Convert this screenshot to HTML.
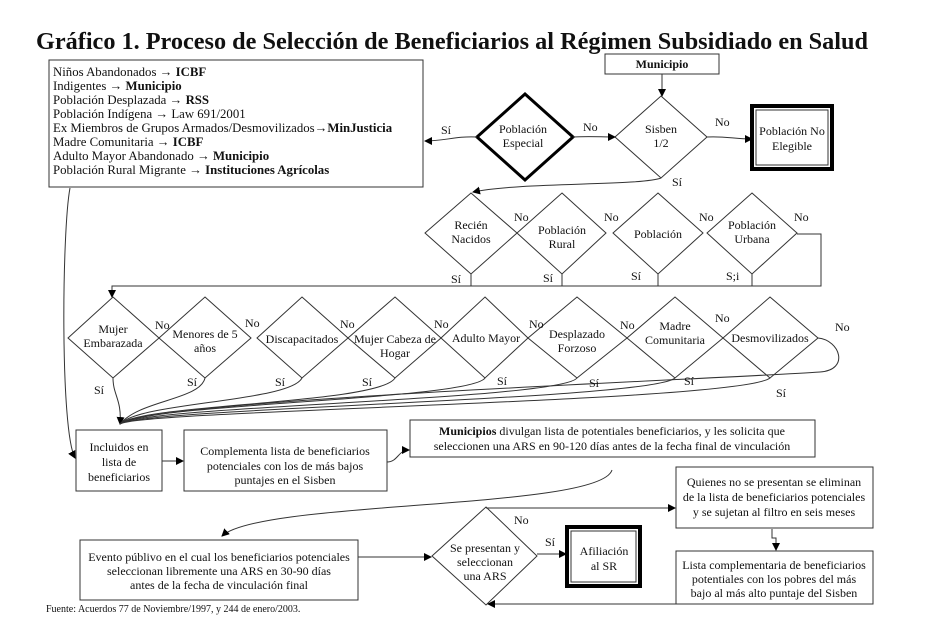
<!DOCTYPE html>
<html><head><meta charset="utf-8"><style>
body{margin:0;background:#fff}
svg{display:block}
text{font-family:"Liberation Serif",serif;font-size:12px;fill:#111}
.c{text-anchor:middle}
.l{font-size:12.8px}
</style></head><body>
<svg width="952" height="635" viewBox="0 0 952 635" xmlns="http://www.w3.org/2000/svg">
<defs><marker id="a" markerWidth="8" markerHeight="8" refX="7" refY="4" orient="auto" markerUnits="userSpaceOnUse"><path d="M0,0 L8,4 L0,8 z" fill="#000"/></marker></defs>
<text x="36" y="49" textLength="832" lengthAdjust="spacingAndGlyphs" style="font-size:24px;font-weight:bold">Gráfico 1. Proceso de Selección de Beneficiarios al Régimen Subsidiado en Salud</text>
<g fill="none" stroke="#333" stroke-width="1">
<rect x="49" y="60" width="374" height="127"/>
<rect x="605" y="54" width="114" height="20"/>
<path d="M662,74 V96" marker-end="url(#a)"/>
<path d="M525,94 L573,137 L525,180 L477,137 Z" stroke="#000" stroke-width="3"/>
<path d="M661,96 L707,137 L661,178 L615,137 Z"/>
<rect x="752" y="106" width="80" height="63" stroke="#000" stroke-width="4"/>
<rect x="756" y="110" width="72" height="55"/>
<path d="M477,137 C455,136 445,141 425,141" marker-end="url(#a)"/>
<path d="M573,137 C590,136 600,137 615,137" marker-end="url(#a)"/>
<path d="M707,137 C725,136 735,139 752,139" marker-end="url(#a)"/>
<path d="M661,178 C640,186 520,182 473,192" marker-end="url(#a)"/>
<path d="M471,193 L517,233 L471,274 L425,233 Z"/>
<path d="M562,193 L606,233 L562,274 L517,233 Z"/>
<path d="M658,193 L703,233 L658,274 L613,233 Z"/>
<path d="M752,193 L797,233 L752,274 L707,233 Z"/>
<path d="M471,274 V286 M562,274 V286 M658,274 V286 M752,274 V286 M797,234 H821 V286 H112 V297"/>
<path d="M112,286 V297" marker-end="url(#a)"/>
<path d="M113,297 L159,338 L113,378 L68,338 Z"/>
<path d="M205,297 L251,338 L205,378 L159,338 Z"/>
<path d="M302,297 L348,338 L302,378 L257,338 Z"/>
<path d="M395,297 L441,338 L395,378 L348,338 Z"/>
<path d="M485,297 L528,338 L485,378 L441,338 Z"/>
<path d="M577,297 L627,338 L577,378 L528,338 Z"/>
<path d="M675,297 L723,338 L675,378 L627,338 Z"/>
<path d="M770,297 L818,338 L770,378 L723,338 Z"/>
<path d="M113,378 C113,395 122,400 120,424" marker-end="url(#a)"/>
<path d="M205,378 C200,400 140,400 120,424"/>
<path d="M302,378 C290,402 140,402 120,424"/>
<path d="M395,378 C380,404 140,404 120,424"/>
<path d="M485,378 C470,400 140,404 120,424"/>
<path d="M577,378 C560,400 140,406 120,424"/>
<path d="M675,378 C650,400 140,408 120,424"/>
<path d="M770,378 C740,402 140,410 120,424"/>
<path d="M818,338 C840,340 850,370 820,372 C700,380 150,400 120,424"/>
<path d="M70,188 C62,230 60,430 75,458" marker-end="url(#a)"/>
<rect x="76" y="430" width="86" height="61"/>
<rect x="184" y="430" width="203" height="61"/>
<rect x="410" y="420" width="405" height="37"/>
<path d="M162,461 H183" marker-end="url(#a)"/>
<path d="M387,462 C398,462 398,450 409,450" marker-end="url(#a)"/>
<path d="M612,470 C600,510 260,500 222,536" marker-end="url(#a)"/>
<rect x="80" y="540" width="278" height="60"/>
<path d="M358,557 H431" marker-end="url(#a)"/>
<path d="M486,507 L537,556 L486,605 L432,556 Z"/>
<path d="M486,508 H675" marker-end="url(#a)"/>
<path d="M537,554 H566" marker-end="url(#a)"/>
<rect x="567" y="527" width="73" height="59" stroke="#000" stroke-width="4"/>
<rect x="571" y="531" width="65" height="51"/>
<rect x="676" y="467" width="197" height="61"/>
<rect x="676" y="551" width="197" height="53"/>
<path d="M772,529 V538 H776 V550" marker-end="url(#a)"/>
<path d="M676,604 H488" marker-end="url(#a)"/>
</g>
<g>
<text class="l" x="53" y="76">Niños Abandonados → <tspan font-weight="bold">ICBF</tspan></text>
<text class="l" x="53" y="90">Indigentes → <tspan font-weight="bold">Municipio</tspan></text>
<text class="l" x="53" y="104">Población Desplazada → <tspan font-weight="bold">RSS</tspan></text>
<text class="l" x="53" y="118">Población Indígena → Law 691/2001</text>
<text class="l" x="53" y="132">Ex Miembros de Grupos Armados/Desmovilizados→<tspan font-weight="bold">MinJusticia</tspan></text>
<text class="l" x="53" y="146">Madre Comunitaria → <tspan font-weight="bold">ICBF</tspan></text>
<text class="l" x="53" y="160">Adulto Mayor Abandonado → <tspan font-weight="bold">Municipio</tspan></text>
<text class="l" x="53" y="174">Población Rural Migrante → <tspan font-weight="bold">Instituciones Agrícolas</tspan></text>
<text x="662" y="68" class="c" font-weight="bold">Municipio</text>
<text x="523" y="133" class="c">Población</text><text x="523" y="147" class="c">Especial</text>
<text x="661" y="133" class="c">Sisben</text><text x="661" y="147" class="c">1/2</text>
<text x="792" y="135" class="c">Población No</text><text x="792" y="150" class="c">Elegible</text>
<text x="441" y="134">Sí</text><text x="583" y="131">No</text><text x="715" y="126">No</text><text x="672" y="186">Sí</text>
<text x="471" y="229" class="c">Recién</text><text x="471" y="243" class="c">Nacidos</text>
<text x="562" y="234" class="c">Población</text><text x="562" y="248" class="c">Rural</text>
<text x="658" y="238" class="c">Población</text>
<text x="752" y="229" class="c">Población</text><text x="752" y="243" class="c">Urbana</text>
<text x="514" y="221">No</text><text x="604" y="221">No</text><text x="699" y="221">No</text><text x="794" y="221">No</text>
<text x="451" y="283">Sí</text><text x="543" y="282">Sí</text><text x="631" y="280">Sí</text><text x="726" y="280">S;i</text>
<text x="113" y="333" class="c">Mujer</text><text x="113" y="347" class="c">Embarazada</text>
<text x="205" y="338" class="c">Menores de 5</text><text x="205" y="352" class="c">años</text>
<text x="302" y="343" class="c">Discapacitados</text>
<text x="395" y="343" class="c">Mujer Cabeza de</text><text x="395" y="357" class="c">Hogar</text>
<text x="486" y="342" class="c">Adulto Mayor</text>
<text x="577" y="338" class="c">Desplazado</text><text x="577" y="352" class="c">Forzoso</text>
<text x="675" y="330" class="c">Madre</text><text x="675" y="344" class="c">Comunitaria</text>
<text x="770" y="342" class="c">Desmovilizados</text>
<text x="155" y="329">No</text><text x="245" y="327">No</text><text x="340" y="328">No</text><text x="434" y="328">No</text><text x="529" y="328">No</text><text x="620" y="329">No</text><text x="715" y="322">No</text><text x="835" y="331">No</text>
<text x="94" y="394">Sí</text><text x="187" y="386">Sí</text><text x="275" y="386">Sí</text><text x="362" y="386">Sí</text><text x="497" y="385">Sí</text><text x="589" y="387">Sí</text><text x="684" y="385">Sí</text><text x="776" y="397">Sí</text>
<text x="119" y="451" class="c">Incluidos en</text><text x="119" y="466" class="c">lista de</text><text x="119" y="481" class="c">beneficiarios</text>
<text x="285" y="455" class="c">Complementa lista de beneficiarios</text><text x="285" y="470" class="c">potenciales con los de más bajos</text><text x="285" y="484" class="c">puntajes en el Sisben</text>
<text x="612" y="435" class="c"><tspan font-weight="bold">Municipios</tspan> divulgan lista de potentiales beneficiarios, y les solicita que</text>
<text x="612" y="450" class="c">seleccionen una ARS en 90-120 días antes de la fecha final de vinculación</text>
<text x="219" y="561" class="c">Evento públivo en el cual los beneficiarios potenciales</text>
<text x="219" y="575" class="c">seleccionan libremente una ARS en 30-90 días</text>
<text x="219" y="589" class="c">antes de la fecha de vinculación final</text>
<text x="485" y="552" class="c">Se presentan y</text><text x="485" y="566" class="c">seleccionan</text><text x="485" y="580" class="c">una ARS</text>
<text x="514" y="524">No</text><text x="545" y="546">Sí</text>
<text x="604" y="555" class="c">Afiliación</text><text x="604" y="570" class="c">al SR</text>
<text x="774" y="486" class="c">Quienes no se presentan se eliminan</text><text x="774" y="501" class="c">de la lista de beneficiarios potenciales</text><text x="774" y="516" class="c">y se sujetan al filtro en seis meses</text>
<text x="774" y="569" class="c">Lista complementaria de beneficiarios</text><text x="774" y="583" class="c">potentiales con los pobres del más</text><text x="774" y="597" class="c">bajo al más alto puntaje del Sisben</text>
<text x="46" y="612" style="font-size:10px">Fuente: Acuerdos 77 de Noviembre/1997, y 244 de enero/2003.</text>
</g>
</svg>
</body></html>
